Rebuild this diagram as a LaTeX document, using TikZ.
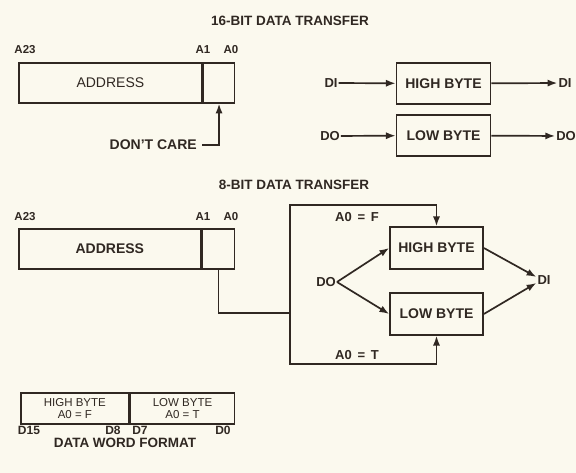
\documentclass[tikz,border=0pt]{standalone}
\usepackage{fontspec}
\setmainfont{Liberation Sans}
\usetikzlibrary{arrows.meta,positioning}
\definecolor{ink}{RGB}{48,40,34}
\definecolor{paper}{RGB}{251,249,238}
\tikzset{
    edge/.style={->, >={Latex[length=3.4mm,width=2.5mm]}, line width=1.7pt, draw=ink},
    wire/.style={line width=1.7pt, draw=ink},
    lbl/.style={font=\bfseries\fontsize{13}{14}\selectfont, text=ink, inner sep=1pt},
    pin/.style={font=\bfseries\fontsize{11.5}{13}\selectfont, text=ink, inner sep=1pt}
}

\begin{document}
\begin{tikzpicture}[x=1pt, y=-1pt,
    regbox/.style={rectangle, draw=ink, line width=1.7pt, minimum height=40pt, inner sep=0pt, font=\fontsize{14}{16}\selectfont, text=ink},
    bytebox/.style={rectangle, draw=ink, line width=1.7pt, minimum width=94pt, minimum height=41pt, font=\bfseries\fontsize{14}{16}\selectfont, text=ink},
    wordbox/.style={rectangle, draw=ink, line width=1.7pt, minimum height=31pt, inner sep=0pt, align=center, font=\fontsize{11.5}{12}\selectfont, text=ink},
    title/.style={font=\bfseries\fontsize{13.5}{15}\selectfont, text=ink}
]
    % Page
    \fill[paper] (0,0) rectangle (576,473);
    \useasboundingbox (0,0) rectangle (576,473);

    % 16-bit transfer
    \node[title] (T16) at (290,21) {16-BIT DATA TRANSFER};
    \node[regbox, minimum width=183pt, anchor=north west] (ADDR1) at (18,62) {ADDRESS};
    \node[regbox, minimum width=31pt, anchor=west] (CELL1) at (ADDR1.east) {};
    \node[pin] (A23a) at (25,50) {A23};
    \node[pin] (A1a) at (203,50) {A1};
    \node[pin] (A0a) at (231,50) {A0};
    \node[lbl, font=\bfseries\fontsize{14}{16}\selectfont, anchor=east] (DC) at (198,145) {DON'T CARE};
    \draw[edge] ([xshift=4pt]DC.east) -| (CELL1.south);

    \node[bytebox] (HB1) at (443.5,83.5) {HIGH BYTE};
    \node[bytebox] (LB1) at (443.5,135.5) {LOW BYTE};
    \node[lbl] (DIin) at (331,83) {DI};
    \node[lbl] (DIout) at (565,83) {DI};
    \node[lbl] (DOin) at (330,136) {DO};
    \node[lbl] (DOout) at (566,136) {DO};
    \draw[edge] (DIin) -- (HB1);
    \draw[edge] (HB1) -- (DIout);
    \draw[edge] (DOin) -- (LB1);
    \draw[edge] (LB1) -- (DOout);

    % 8-bit transfer
    \node[title] (T8) at (294,185) {8-BIT DATA TRANSFER};
    \node[regbox, minimum width=182pt, anchor=north west, font=\bfseries\fontsize{14}{16}\selectfont] (ADDR2) at (18,228) {ADDRESS};
    \node[regbox, minimum width=32pt, anchor=west] (CELL2) at (ADDR2.east) {};
    \node[pin] (A23b) at (25,217) {A23};
    \node[pin] (A1b) at (203,217) {A1};
    \node[pin] (A0b) at (231,217) {A0};

    \node[bytebox, minimum width=93pt, minimum height=42pt] (HB2) at (436.5,248) {HIGH BYTE};
    \node[bytebox, minimum width=93pt, minimum height=42pt] (LB2) at (436.5,314) {LOW BYTE};
    \node[lbl] (DO2) at (326,282) {DO};
    \node[lbl] (DI2) at (544,280) {DI};
    \node[lbl] (AF) at (357,217) {A0 \,=\, F};
    \node[lbl] (AT) at (357,355) {A0 \,=\, T};

    \coordinate (BUS) at (290,313);
    \coordinate (BUSt) at (290,205);
    \coordinate (BUSb) at (290,364);
    \draw[wire] (CELL2.south) |- (BUS);
    \draw[edge] (BUS) -- (BUSt) -| (HB2.north);
    \draw[edge] (BUS) -- (BUSb) -| (LB2.south);
    \draw[edge] (DO2.east) -- (HB2.west);
    \draw[edge] (DO2.east) -- (LB2.west);
    \draw[edge] (HB2.east) -- ([yshift=3pt]DI2.west);
    \draw[edge] (LB2.east) -- ([yshift=-3pt]DI2.west);

    % Data word format
    \node[wordbox, minimum width=108pt, anchor=north west] (HW) at (20,392) {HIGH BYTE\\A0 = F};
    \node[wordbox, minimum width=104pt, anchor=west] (LW) at (HW.east) {LOW BYTE\\A0 = T};
    \node[lbl, font=\bfseries\fontsize{12}{13}\selectfont] (D15) at (29,430) {D15};
    \node[lbl, font=\bfseries\fontsize{12}{13}\selectfont] (D8) at (113,430) {D8};
    \node[lbl, font=\bfseries\fontsize{12}{13}\selectfont] (D7) at (140,430) {D7};
    \node[lbl, font=\bfseries\fontsize{12}{13}\selectfont] (D0) at (223,430) {D0};
    \node[title] (DWF) at (125,443) {DATA WORD FORMAT};
\end{tikzpicture}
\end{document}
